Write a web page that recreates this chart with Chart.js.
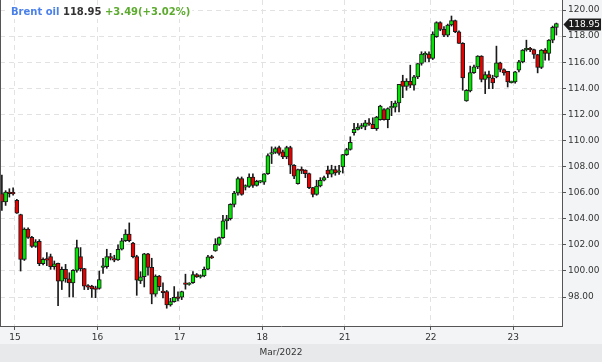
<!DOCTYPE html>
<html lang="en">
<head>
<meta charset="UTF-8">
<title>Brent oil - hourly</title>
<style>
    * { margin: 0; padding: 0; box-sizing: border-box; }
    body { background: #fff; width: 602px; height: 362px; overflow: hidden; }
</style>
<script src="https://cdn.jsdelivr.net/npm/chart.js"></script>
</head>
<body>
<canvas id="chart" width="602" height="362"></canvas>

<script>
// Hourly candles, 14 Mar (last 4 hours) to 23 Mar 2022
const opens = [
    105.92, 105.28, 106.05, 106.02, 105.41, 104.32, 100.89, 103.21, 102.57, 101.87,
    102.26, 100.55, 100.95, 101.10, 100.32, 100.58, 99.21, 100.12, 99.39, 99.08,
    100.04, 101.10, 100.17, 98.88, 98.83, 98.70, 98.65, 100.26, 100.32, 101.10,
    100.95, 100.84, 101.66, 102.31, 102.83, 102.13, 101.10, 99.24, 99.55, 101.30,
    100.27, 98.21, 99.60, 98.46, 98.41, 97.40, 97.65, 98.02, 97.98, 99.08,
    98.96, 99.10, 99.72, 99.54, 99.62, 100.13, 101.10, 101.53, 102.04, 102.55,
    103.83, 104.00, 105.10, 105.97, 107.07, 106.42, 106.48, 107.19, 106.56, 106.80,
    106.81, 107.45, 108.95, 109.08, 109.46, 109.13, 108.74, 109.46, 108.10, 106.69,
    107.78, 107.72, 107.46, 106.38, 105.87, 106.51, 106.95, 107.72, 107.41, 107.77,
    107.56, 107.97, 108.92, 109.31, 110.59, 110.85, 111.02, 111.08, 111.36, 111.23,
    110.90, 111.59, 112.36, 111.59, 112.50, 112.56, 112.87, 114.56, 114.15, 114.54,
    114.23, 114.87, 115.90, 116.56, 116.62, 116.28, 117.95, 119.03, 118.51, 118.08,
    118.85, 119.18, 118.33, 117.44, 113.03, 113.80, 115.20, 115.64, 116.46, 114.67,
    115.05, 114.79, 114.87, 115.95, 115.44, 115.30, 114.43, 114.49, 115.38, 116.03,
    116.95, 117.07, 116.97, 116.59, 115.59, 116.92, 116.67, 117.69, 118.67
];
const highs = [
    107.34, 106.15, 106.30, 106.36, 105.48, 104.35, 103.30, 103.30, 102.65, 102.40,
    102.40, 101.00, 101.40, 101.29, 100.76, 100.60, 100.30, 100.50, 99.86, 100.10,
    102.36, 101.79, 100.20, 98.95, 98.90, 98.83, 99.99, 100.97, 101.66, 101.35,
    101.20, 102.00, 102.50, 103.16, 103.68, 102.20, 101.20, 99.94, 101.35, 101.35,
    100.97, 99.70, 99.65, 99.08, 98.50, 97.90, 98.80, 98.40, 98.45, 99.75,
    99.10, 99.95, 99.80, 99.70, 100.30, 101.20, 101.20, 102.47, 102.60, 104.26,
    104.26, 105.15, 106.10, 107.20, 107.20, 106.60, 107.45, 107.45, 106.95, 106.92,
    107.47, 108.98, 109.51, 109.50, 109.56, 109.26, 109.56, 109.56, 108.15, 107.80,
    107.97, 107.75, 107.50, 106.40, 106.95, 107.15, 107.26, 108.03, 108.10, 108.03,
    108.10, 108.93, 109.40, 110.28, 111.31, 111.30, 111.30, 111.54, 111.67, 111.74,
    111.85, 112.70, 112.45, 112.50, 113.00, 113.03, 114.31, 115.00, 114.74, 115.77,
    115.00, 115.90, 116.80, 116.80, 116.80, 118.33, 119.10, 119.10, 118.72, 118.92,
    119.54, 119.23, 118.41, 117.50, 113.90, 115.70, 115.77, 116.50, 116.50, 115.26,
    115.31, 115.00, 117.23, 116.00, 115.50, 115.30, 114.55, 115.30, 116.15, 116.97,
    117.69, 117.13, 117.00, 116.60, 116.97, 117.05, 117.74, 118.77, 119.00
];
const lows = [
    104.63, 105.02, 105.66, 105.80, 104.40, 99.99, 100.80, 102.50, 101.80, 101.80,
    100.40, 100.45, 100.40, 100.12, 100.12, 97.33, 98.57, 99.13, 98.00, 98.00,
    99.90, 99.99, 98.57, 98.57, 97.97, 97.95, 98.60, 99.80, 100.20, 100.84,
    100.70, 100.80, 101.60, 102.25, 102.23, 101.00, 98.13, 99.03, 98.77, 99.68,
    97.48, 98.05, 98.50, 97.93, 97.14, 97.30, 97.60, 97.70, 97.80, 98.60,
    98.90, 99.05, 99.50, 99.45, 99.55, 100.10, 100.95, 101.50, 101.95, 102.50,
    103.20, 103.90, 104.90, 105.80, 105.80, 106.20, 106.40, 106.40, 106.50, 106.75,
    106.63, 107.40, 108.23, 109.00, 108.87, 108.60, 108.60, 107.46, 107.08, 106.64,
    107.46, 107.15, 106.30, 105.67, 105.80, 106.44, 106.90, 107.15, 107.20, 107.33,
    107.40, 107.50, 108.85, 109.26, 110.40, 110.80, 110.90, 110.82, 111.15, 110.90,
    110.77, 111.55, 111.55, 110.97, 111.90, 112.18, 112.18, 113.28, 113.85, 114.05,
    113.85, 114.74, 115.77, 116.03, 116.03, 116.20, 117.90, 118.41, 117.95, 117.95,
    118.77, 118.26, 117.44, 113.85, 113.00, 113.72, 115.13, 115.50, 114.49, 113.59,
    113.97, 113.97, 114.80, 115.26, 115.00, 114.10, 114.40, 114.40, 115.26, 115.95,
    116.85, 116.80, 116.28, 115.18, 115.51, 116.15, 116.15, 117.49, 118.08
];
const closes = [
    105.28, 106.05, 105.93, 105.90, 104.43, 100.89, 103.21, 102.57, 101.87, 102.23,
    100.55, 100.89, 100.83, 100.32, 100.55, 99.21, 100.12, 99.39, 99.08, 100.04,
    101.79, 100.17, 98.83, 98.76, 98.62, 98.58, 99.34, 100.38, 101.10, 100.97,
    100.83, 101.66, 102.31, 102.83, 102.31, 101.10, 99.29, 99.55, 101.30, 100.27,
    98.21, 99.60, 98.80, 98.34, 97.40, 97.65, 97.98, 97.90, 98.41, 98.96,
    99.06, 99.72, 99.54, 99.64, 100.13, 101.07, 101.00, 102.04, 102.55, 103.83,
    104.00, 105.10, 105.97, 107.07, 105.87, 106.54, 107.19, 106.56, 106.86, 106.92,
    107.45, 108.85, 109.07, 109.38, 109.00, 108.74, 109.46, 108.10, 107.26, 107.77,
    107.66, 107.46, 106.38, 105.87, 106.51, 106.95, 107.15, 107.41, 107.77, 107.51,
    107.68, 108.92, 109.31, 109.85, 110.85, 111.03, 111.14, 111.36, 111.24, 110.90,
    111.80, 112.64, 111.59, 112.44, 112.62, 112.87, 114.31, 114.15, 114.56, 114.23,
    114.87, 115.90, 116.62, 116.68, 116.28, 118.15, 119.03, 118.51, 118.08, 118.85,
    119.18, 118.33, 117.44, 114.79, 113.85, 115.20, 115.64, 116.46, 114.67, 115.05,
    114.79, 114.41, 115.95, 115.44, 115.18, 114.49, 114.55, 115.26, 116.03, 116.92,
    117.07, 116.95, 116.59, 115.59, 116.92, 116.67, 117.69, 118.67, 118.95
];

// first candle of each trading day, and its label
const dayStarts = [4, 26, 48, 70, 92, 115, 137];
const dayLabels = ['15', '16', '17', '18', '21', '22', '23'];
const priceTicks = [98, 100, 102, 104, 106, 108, 110, 112, 114, 116, 118, 120];
const monthLabel = 'Mar/2022';

const symbolName = 'Brent oil';
const change = '+3.49';
const changePct = '+3.02%';

const UP = '#00e600';
const DOWN = '#e60000';
const INK = '#1a1a1a';
const FONT = '"DejaVu Sans", Verdana, sans-serif';

// build the two floating-bar series
const slots = opens.map((_, i) => i + 0.5);
const bodies = slots.map((x, i) => ({ x: x, y: [opens[i], closes[i]] }));
const wicks = slots.map((x, i) => ({ x: x, y: [lows[i], highs[i]] }));
const bodyColors = opens.map((o, i) => closes[i] >= o ? UP : DOWN);

// no label overhang padding, the plot runs to the canvas edges
const noPad = s => { s.paddingTop = 0; s.paddingBottom = 0; s.paddingLeft = 0; s.paddingRight = 0; };

// backgrounds, left frame line, price tag and header text
const decor = {
    id: 'decor',
    beforeDraw(chart) {
        const { ctx, chartArea: a, width, height } = chart;
        ctx.save();
        ctx.fillStyle = '#f3f4f6';
        ctx.fillRect(0, 0, width, height);
        ctx.fillStyle = '#e8e9eb';
        ctx.fillRect(0, 344, width, height - 344);
        ctx.fillStyle = '#ffffff';
        ctx.fillRect(a.left, a.top, a.right - a.left, a.bottom - a.top);
        ctx.restore();
    },
    afterDraw(chart) {
        const { ctx, chartArea: a } = chart;
        ctx.save();
        ctx.strokeStyle = '#555';
        ctx.lineWidth = 1;
        ctx.beginPath();
        ctx.moveTo(a.left + 0.5, a.top);
        ctx.lineTo(a.left + 0.5, a.bottom);
        ctx.stroke();

        // last price tag on the right axis
        const last = closes[closes.length - 1];
        const y = Math.round(chart.scales.y.getPixelForValue(last)) + 0.5;
        const x0 = a.right + 1.5;
        ctx.fillStyle = '#1c1c1c';
        ctx.beginPath();
        ctx.moveTo(x0, y);
        ctx.lineTo(x0 + 5.5, y - 6);
        ctx.lineTo(601, y - 6);
        ctx.lineTo(601, y + 6);
        ctx.lineTo(x0 + 5.5, y + 6);
        ctx.closePath();
        ctx.fill();
        ctx.fillStyle = '#ffffff';
        ctx.font = '9px ' + FONT;
        ctx.textBaseline = 'middle';
        ctx.fillText(last.toFixed(2), x0 + 5, y + 0.5);

        // header
        ctx.font = 'bold 10px ' + FONT;
        const parts = [
            [symbolName, '#4a80ea'],
            [last.toFixed(2), '#333333'],
            [change + '(' + changePct + ')', '#5cab2f']
        ];
        let tx = 11;
        const gap = ctx.measureText(' ').width;
        const total = parts.reduce((s, p) => s + ctx.measureText(p[0]).width, 0) + gap * 2;
        ctx.fillStyle = '#ffffff';
        ctx.fillRect(tx - 2, 6, total + 4, 13);
        ctx.textBaseline = 'middle';
        parts.forEach(p => {
            ctx.fillStyle = p[1];
            ctx.fillText(p[0], tx, 12.5);
            tx += ctx.measureText(p[0]).width + gap;
        });
        ctx.restore();
    }
};

new Chart(document.getElementById('chart'), {
    type: 'bar',
    data: {
        datasets: [{
            label: 'body',
            data: bodies,
            backgroundColor: bodyColors,
            borderColor: INK,
            borderWidth: 1,
            borderSkipped: false,
            barThickness: 4,
            grouped: false
        }, {
            label: 'wick',
            data: wicks,
            backgroundColor: INK,
            borderWidth: 0,
            barThickness: 1,
            grouped: false
        }]
    },
    options: {
        responsive: false,
        animation: false,
        devicePixelRatio: 1,
        events: [],
        layout: { padding: 0 },
        plugins: {
            legend: { display: false },
            tooltip: { enabled: false }
        },
        scales: {
            x: {
                type: 'linear',
                position: 'bottom',
                offset: false,
                min: 0,
                max: 150,
                afterBuildTicks: s => { s.ticks = dayStarts.map(v => ({ value: v })); },
                afterFit: s => { s.height = 36; noPad(s); },
                ticks: {
                    autoSkip: false,
                    maxRotation: 0,
                    padding: 2,
                    color: '#333',
                    font: { family: FONT, size: 9 },
                    callback: v => dayLabels[dayStarts.indexOf(v)]
                },
                grid: { offset: false, color: '#e2e2e2', tickColor: '#555', tickLength: 4 },
                border: { color: '#555', dash: [5, 4] },
                title: {
                    display: true,
                    text: monthLabel,
                    color: '#333',
                    font: { family: FONT, size: 9 },
                    padding: { top: 0, bottom: 4 }
                }
            },
            y: {
                position: 'right',
                min: 95.777,
                max: 120.767,
                afterBuildTicks: s => { s.ticks = priceTicks.map(v => ({ value: v })); },
                afterFit: s => { s.width = 40; noPad(s); },
                ticks: {
                    padding: 2,
                    color: '#333',
                    font: { family: FONT, size: 9 },
                    callback: v => Number(v).toFixed(2)
                },
                grid: { color: '#e2e2e2', tickColor: '#555', tickLength: 4 },
                border: { color: '#555', dash: [5, 4] }
            }
        }
    },
    plugins: [decor]
});
</script>
</body>
</html>
